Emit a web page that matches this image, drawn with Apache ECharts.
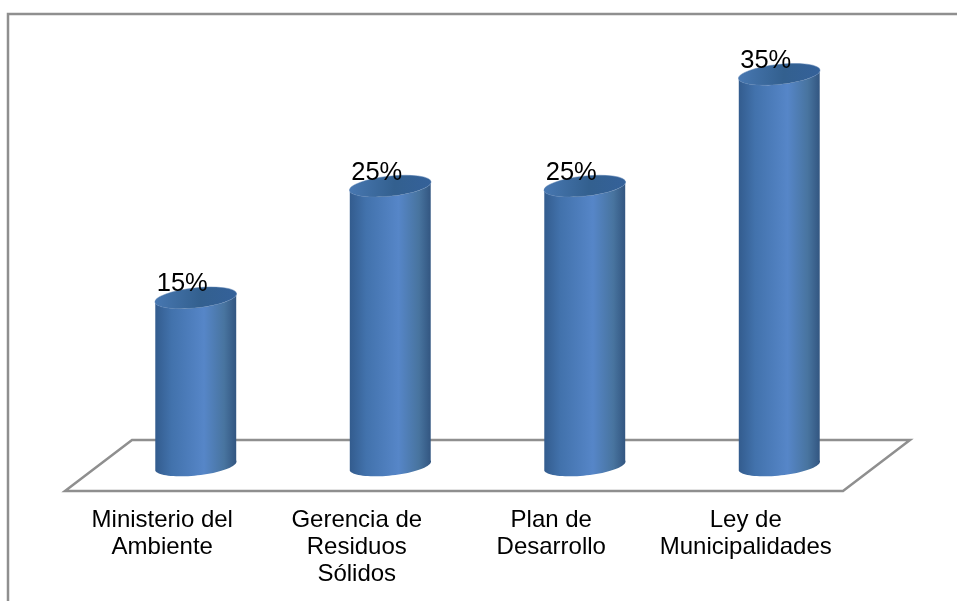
<!DOCTYPE html>
<html><head><meta charset="utf-8">
<style>html,body{margin:0;padding:0;background:#fff}#c{width:957px;height:601px}</style>
<script src="https://cdn.jsdelivr.net/npm/echarts@6/dist/echarts.min.js"></script>
</head><body><div id="c"></div>
<script>
const categories = ['Ministerio del\nAmbiente', 'Gerencia de\nResiduos\nSólidos', 'Plan de\nDesarrollo', 'Ley de\nMunicipalidades'];
const values = [15, 25, 25, 35];
const depthX = 67, depthY = 51;
const rx = 41, ry = 10, tilt = -6 * Math.PI / 180;

function ell(cx, cy, t) {
  return [cx + rx * Math.cos(t) * Math.cos(tilt) - ry * Math.sin(t) * Math.sin(tilt),
          cy + rx * Math.cos(t) * Math.sin(tilt) + ry * Math.sin(t) * Math.cos(tilt)];
}
function cylinder(params, api) {
  const i = api.value(0), v = api.value(1);
  const top = api.coord([i, v]), base = api.coord([i, 0]);
  const cx = top[0] + depthX / 2, ty = top[1] - depthY / 2, by = base[1] - depthY / 2;
  const pts = [];
  for (let k = 0; k <= 40; k++) pts.push(ell(cx, by, k / 40 * Math.PI - 0.1));
  for (let k = 40; k >= 0; k--) pts.push(ell(cx, ty, k / 40 * Math.PI - 0.1));
  return { type: 'group', children: [
    { type: 'polygon', shape: { points: pts }, style: { fill: new echarts.graphic.LinearGradient(0, 0, 1, 0, [
      { offset: 0, color: '#335c8e' }, { offset: 0.2, color: '#4272ac' },
      { offset: 0.6, color: '#5686c8' }, { offset: 0.85, color: '#48749f' }, { offset: 1, color: '#325580' }]) } },
    { type: 'ellipse', shape: { cx: 0, cy: 0, rx: rx, ry: ry }, x: cx, y: ty, rotation: -tilt,
      style: { fill: new echarts.graphic.LinearGradient(0, 0.2, 1, 0.8, [
        { offset: 0, color: '#4878b2' }, { offset: 0.55, color: '#33608f' }, { offset: 1, color: '#34619a' }]),
        stroke: 'rgba(90,130,180,0.5)', lineWidth: 1 } }
  ]};
}
function floor(params, api) {
  const c = params.coordSys, b = c.y + c.height;
  return { type: 'polygon', shape: { points: [[c.x, b], [c.x + depthX, b - depthY],
    [c.x + c.width + depthX, b - depthY], [c.x + c.width, b]] },
    style: { fill: 'none', stroke: '#8f8f8f', lineWidth: 2.5 } };
}
const chart = echarts.init(document.getElementById('c'), null, { renderer: 'canvas' });
chart.setOption({
  animation: false,
  grid: { left: 65, right: 114, top: 44, bottom: 110 },
  graphic: [{ type: 'polyline', shape: { points: [[8, 601], [8, 14], [957, 14]] },
    style: { fill: 'none', stroke: '#8f8f8f', lineWidth: 2.5 } }],
  xAxis: { type: 'category', data: categories, axisLine: { show: false }, axisTick: { show: false },
    axisLabel: { color: '#000', fontFamily: 'Liberation Sans', fontSize: 24, lineHeight: 27, margin: 15.5, interval: 0 } },
  yAxis: { type: 'value', min: 0, max: 40, show: false },
  series: [
    { type: 'custom', data: [0], silent: true, z: 1, renderItem: floor, encode: { x: 0 } },
    { type: 'custom', data: values.map((v, i) => [i, v]), z: 2, renderItem: cylinder, encode: { x: 0, y: 1 } },
    { type: 'scatter', data: values.map((v, i) => [i, v]), symbolSize: 0, z: 3, itemStyle: { opacity: 1 },
      label: { show: true, position: 'top', distance: 0, offset: [20, -26], formatter: p => p.value[1] + '%',
        color: '#000', fontFamily: 'Liberation Sans', fontSize: 25.5 } }
  ]
});
</script></body></html>
